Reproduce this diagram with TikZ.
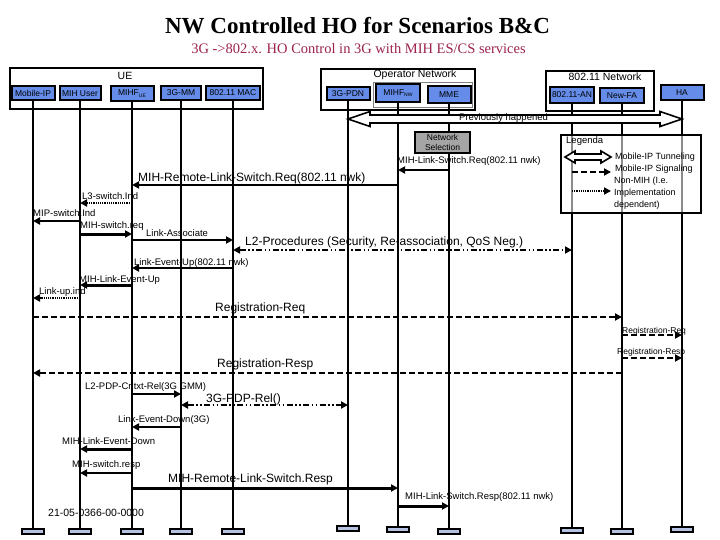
\documentclass[tikz,border=0pt]{standalone}
\usepackage{fontspec}
\setmainfont{Liberation Sans}
\newfontfamily\seriffont{Liberation Serif}
\usetikzlibrary{arrows.meta,calc}
\definecolor{boxblue}{RGB}{100,140,232}
\definecolor{subred}{RGB}{155,35,80}
\definecolor{selgray}{RGB}{165,165,165}
\definecolor{barblue}{RGB}{182,194,226}
\begin{document}
\begin{tikzpicture}[x=1pt,y=-1pt,
 lifebox/.style={draw, line width=2pt, fill=boxblue, inner sep=0pt, font=\fontsize{8.5}{9}\selectfont},
 groupbox/.style={draw, line width=2pt, anchor=north west, inner sep=0pt},
 lifeline/.style={line width=2.2pt},
 endbar/.style={draw, line width=1.5pt, fill=barblue, minimum width=22pt, minimum height=5pt, inner sep=0pt, anchor=north},
 msg/.style={line width=1.8pt, -{Triangle[length=7pt,width=7pt]}},
 msgthick/.style={msg, line width=3pt},
 dotmsg/.style={msg, line width=2.5pt, dash pattern=on 1.2pt off 1pt},
 dashmsg/.style={msg, dash pattern=on 6pt off 3pt},
 ddmsg/.style={line width=1.8pt, {Triangle[length=7pt,width=7pt]}-{Triangle[length=7pt,width=7pt]}, dash pattern=on 6pt off 2.5pt on 1.5pt off 2.5pt on 1.5pt off 2.5pt},
 lbl/.style={anchor=west, inner sep=0pt, font=\fontsize{9.5}{10}\selectfont},
 leglbl/.style={anchor=west, inner sep=0pt, font=\fontsize{9}{10}\selectfont},
 biglbl/.style={anchor=west, inner sep=0pt, font=\fontsize{12}{13}\selectfont},
 hollow/.style={draw, line width=1.6pt, fill=white, line join=miter}
]
\useasboundingbox (0,0) rectangle (720,540);

% titles
\node[font=\seriffont\bfseries\fontsize{23}{25}\selectfont] (title) at (357.5,26) {NW Controlled HO for Scenarios B\&C};
\node[font=\seriffont\fontsize{14.5}{16}\selectfont, text=subred] (subtitle) at (358.5,49) {3G ->802.x. HO Control in 3G with MIH ES/CS services};

% group boxes
\node[groupbox, minimum width=253pt, minimum height=41pt] (uebox) at (9,67) {};
\node[font=\fontsize{10.5}{11}\selectfont] (uelbl) at (125,76) {UE};
\node[groupbox, minimum width=154pt, minimum height=41pt] (opbox) at (320,68) {};
\node[groupbox, draw=gray, line width=0.8pt, minimum width=99pt, minimum height=25pt] (opinner) at (373,82) {};
\node[font=\fontsize{10.5}{11}\selectfont] (oplbl) at (415,75) {Operator Network};
\node[groupbox, minimum width=108pt, minimum height=40pt] (wlbox) at (545,70) {};
\node[font=\fontsize{10.5}{11}\selectfont] (wllbl) at (605,77) {802.11 Network};

% entity boxes
\node[lifebox, minimum width=43pt, minimum height=14pt] (mip) at (33,93) {Mobile-IP};
\node[lifebox, minimum width=41pt, minimum height=14pt] (mihu) at (80,93.5) {MIH User};
\node[lifebox, minimum width=43pt, minimum height=15pt] (mihfue) at (132,93.5) {MIHF\raisebox{-1.5pt}{\fontsize{5}{5}\selectfont UE}};
\node[lifebox, minimum width=40pt, minimum height=14pt] (mm) at (181,93) {3G-MM};
\node[lifebox, minimum width=54pt, minimum height=14pt] (mac) at (233,93) {802.11 MAC};
\node[lifebox, minimum width=43pt, minimum height=13pt] (pdn) at (348,93.5) {3G-PDN};
\node[lifebox, minimum width=44pt, minimum height=18pt] (mihfnw) at (398,93) {MIHF\raisebox{-1.5pt}{\fontsize{5}{5}\selectfont NW}};
\node[lifebox, minimum width=43pt, minimum height=17pt] (mme) at (449,94.5) {MME};
\node[lifebox, minimum width=44pt, minimum height=16pt] (an) at (572,95) {802.11-AN};
\node[lifebox, minimum width=44pt, minimum height=15pt] (fa) at (622,95.5) {New-FA};
\node[lifebox, minimum width=43pt, minimum height=15pt] (ha) at (682,92.5) {HA};

% lifelines
\foreach \n/\e in {mip/528,mihu/528,mihfue/528,mm/528,mac/528,pdn/525,mihfnw/526,mme/528,an/527,fa/528,ha/526}{
  \coordinate (\n E) at (\n |- 0,\e);
  \draw[lifeline] (\n.south) -- (\n E);
  \node[endbar] (\n bar) at (\n E) {};
}

% previously happened
\coordinate (phL) at (pdn |- 0,119);
\coordinate (phR) at (ha |- 0,119);
\draw[hollow] (phL) -- ++(22,-7.5) -- ++(0,3.5) -- ($(phR)+(-22,-4)$) -- ++(0,-3.5) -- (phR)
  -- ++(-22,7.5) -- ++(0,-3.5) -- ($(phL)+(22,4)$) -- ++(0,3.5) -- cycle;
\node[lbl] (phlbl) at (459,118) {Previously happened};

% network selection
\node[draw, line width=1.5pt, fill=selgray, minimum width=55pt, minimum height=21pt, align=center, inner sep=0pt, font=\fontsize{8.5}{9.5}\selectfont] (netsel) at (442.5,142.5) {Network\\Selection};

% legend
\node[draw, line width=2pt, fill=white, fill opacity=0.55, anchor=north west, minimum width=140pt, minimum height=78pt, inner sep=0pt] (legend) at (560,134) {};
\node[lbl] (legt) at (566,141) {Legenda};
\coordinate (lgA) at (565,157);
\coordinate (lgB) at (611,157);
\draw[hollow] (lgA) -- ++(10,-6) -- ++(0,3) -- ($(lgB)+(-10,-3)$) -- ++(0,-3) -- (lgB)
  -- ++(-10,6) -- ++(0,-3) -- ($(lgA)+(10,3)$) -- ++(0,3) -- cycle;
\node[leglbl] (lg1) at (615,157) {Mobile-IP Tunneling};
\coordinate (lgC) at (572,172);
\coordinate (lgD) at (611,172);
\draw[dashmsg] (lgC) -- (lgD);
\node[leglbl] (lg2) at (615,169.5) {Mobile-IP Signaling};
\coordinate (lgE) at (572,191);
\coordinate (lgF) at (611,191);
\draw[dotmsg] (lgE) -- (lgF);
\node[leglbl] (lg3a) at (614,181.5) {Non-MIH (I.e.};
\node[leglbl] (lg3b) at (614,193.5) {Implementation};
\node[leglbl] (lg3c) at (614,205) {dependent)};

% messages
\draw[msg] (mme |- 0,170) -- (mihfnw |- 0,170);
\node[lbl] (t1) at (397,161) {MIH-Link-Switch.Req(802.11 nwk)};

\draw[msg, line width=2.2pt] (mihfnw |- 0,185) -- (mihfue |- 0,185);
\node[biglbl] (t2) at (138,178) {MIH-Remote-Link-Switch.Req(802.11 nwk)};

\draw[dotmsg] (mihfue |- 0,203) -- (mihu |- 0,203);
\node[lbl] (t3) at (82,196) {L3-switch.Ind};

\draw[msg] (mihu |- 0,221) -- (mip |- 0,221);
\node[lbl] (t4) at (33,213) {MIP-switch.Ind};

\draw[msgthick] (mihu |- 0,234) -- (mihfue |- 0,234);
\node[lbl] (t5) at (80,226) {MIH-switch.req};

\draw[msg] (mihfue |- 0,240) -- (mac |- 0,240);
\node[lbl] (t6) at (146,233) {Link-Associate};

\draw[ddmsg] (mac |- 0,250) -- (an |- 0,250);
\node[biglbl] (t7) at (245,242) {L2-Procedures (Security, Re-association, QoS Neg.)};

\draw[msg] (mac |- 0,268) -- (mihfue |- 0,268);
\node[lbl] (t8) at (134,263) {Link-Event-Up(802.11 nwk)};

\draw[msgthick] (mihfue |- 0,285) -- (mihu |- 0,285);
\node[lbl] (t9) at (79,280) {MIH-Link-Event-Up};

\draw[dotmsg] (mihu |- 0,298) -- (mip |- 0,298);
\node[lbl] (t10) at (39,292) {Link-up.ind};

\draw[dashmsg] (mip |- 0,317) -- (fa |- 0,317);
\node[biglbl] (t11) at (215,308) {Registration-Req};

\draw[dashmsg] (fa |- 0,335) -- (ha |- 0,335);
\node[lbl, font=\fontsize{8.5}{9}\selectfont] (t12) at (622,331) {Registration-Req};

\draw[dashmsg] (fa |- 0,358) -- (ha |- 0,358);
\node[lbl, font=\fontsize{8.5}{9}\selectfont] (t13) at (617,352) {Registration-Resp};

\draw[dashmsg] (fa |- 0,373) -- (mip |- 0,373);
\node[biglbl] (t14) at (217,364) {Registration-Resp};

\draw[msg] (mihfue |- 0,394) -- (mm |- 0,394);
\node[lbl] (t15) at (85,387) {L2-PDP-Cntxt-Rel(3G GMM)};

\draw[ddmsg] (mm |- 0,405) -- (pdn |- 0,405);
\node[biglbl] (t16) at (206,399) {3G-PDP-Rel()};

\draw[msg] (mm |- 0,427) -- (mihfue |- 0,427);
\node[lbl] (t17) at (118,420) {Link-Event-Down(3G)};

\draw[msgthick] (mihfue |- 0,449) -- (mihu |- 0,449);
\node[lbl] (t18) at (62,441) {MIH-Link-Event-Down};

\draw[msg] (mihfue |- 0,473) -- (mihu |- 0,473);
\node[lbl] (t19) at (72,465) {MIH-switch.resp};

\draw[msgthick] (mihfue |- 0,488) -- (mihfnw |- 0,488);
\node[biglbl] (t20) at (168,479) {MIH-Remote-Link-Switch.Resp};

\draw[msgthick] (mihfnw |- 0,506) -- (mme |- 0,506);
\node[lbl] (t21) at (405,497) {MIH-Link-Switch.Resp(802.11 nwk)};

\node[lbl, font=\fontsize{10.5}{11}\selectfont] (doc) at (48,513) {21-05-0366-00-0000};
\end{tikzpicture}
\end{document}
